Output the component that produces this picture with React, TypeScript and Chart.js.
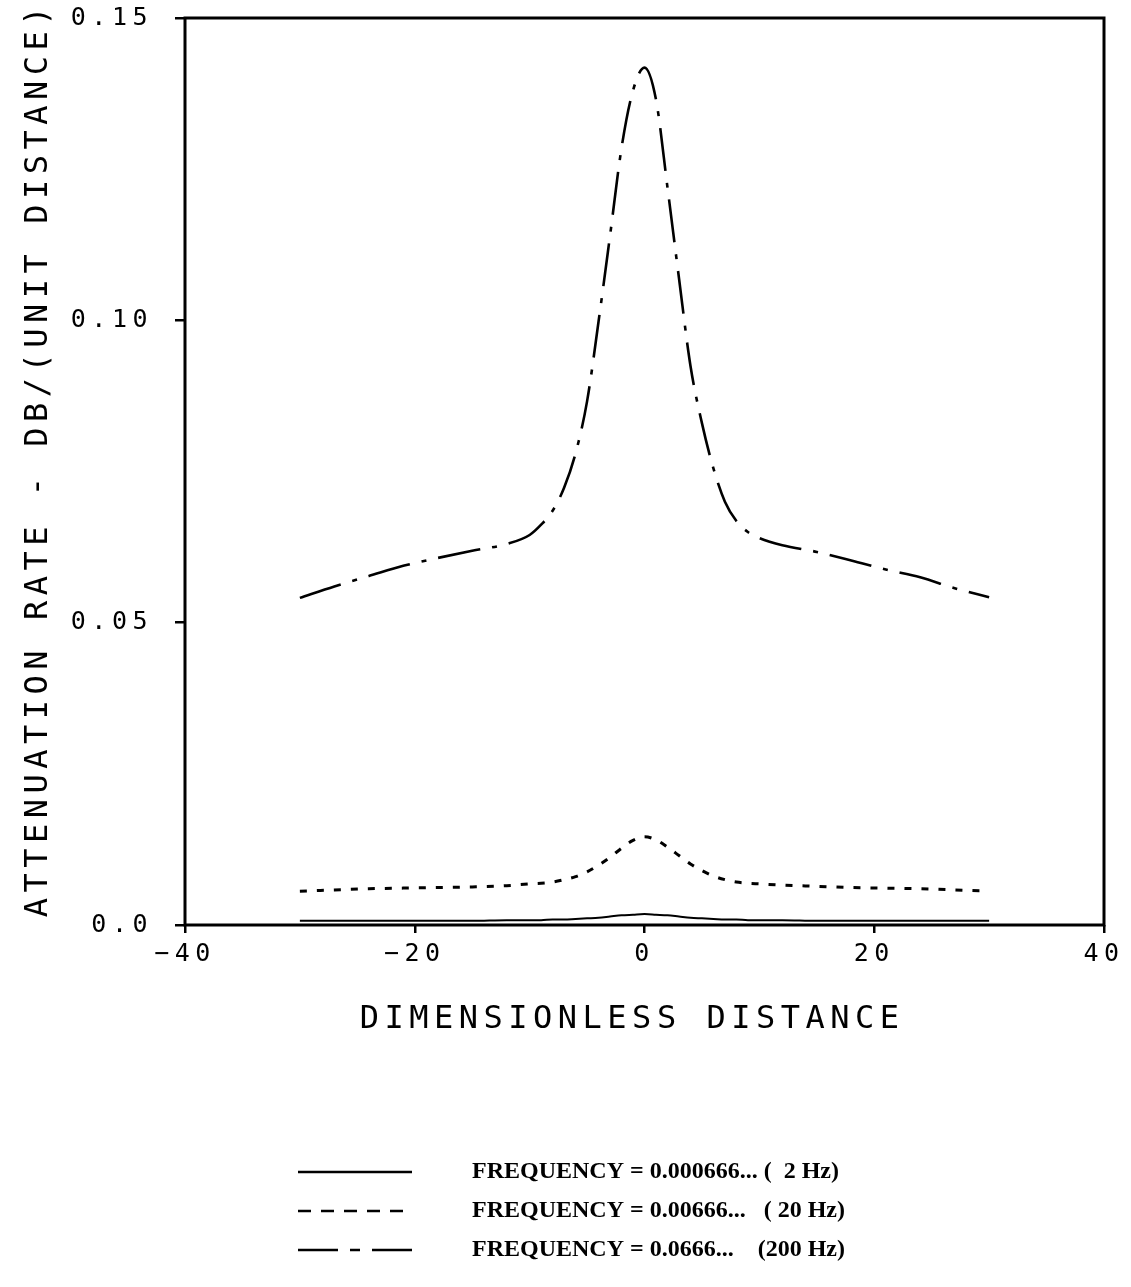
import React, { useEffect, useRef } from 'react';
import { Chart, registerables } from 'chart.js';

Chart.register(...registerables);

// ---- data ----
const distance = [-30, -27, -24, -21, -18, -15, -12, -10, -9, -8, -7, -6, -5, -4, -3, -2, -1, 0, 1, 2, 3, 4, 5, 6, 7, 8, 9, 10, 12, 15, 18, 21, 24, 27, 30];

const rate2Hz = [0.0007, 0.0007, 0.0007, 0.0007, 0.0007, 0.0007, 0.0008, 0.0008, 0.0008, 0.0009, 0.0009, 0.001, 0.0011, 0.0012, 0.0014, 0.0016, 0.0017, 0.0018, 0.0017, 0.0016, 0.0014, 0.0012, 0.0011, 0.001, 0.0009, 0.0009, 0.0008, 0.0008, 0.0008, 0.0007, 0.0007, 0.0007, 0.0007, 0.0007, 0.0007];

const rate20Hz = [0.0056, 0.0058, 0.006, 0.0061, 0.0062, 0.0063, 0.0065, 0.0068, 0.0069, 0.0071, 0.0075, 0.008, 0.0088, 0.0099, 0.0112, 0.0127, 0.014, 0.0146, 0.0141, 0.0129, 0.0115, 0.0101, 0.009, 0.0081, 0.0075, 0.0071, 0.0069, 0.0068, 0.0066, 0.0064, 0.0062, 0.0061, 0.006, 0.0058, 0.0056];

const rate200Hz = [0.0541, 0.056, 0.0577, 0.0594, 0.0607, 0.0619, 0.063, 0.0645, 0.0662, 0.0685, 0.0723, 0.078, 0.0866, 0.0998, 0.114, 0.1285, 0.138, 0.1418, 0.1365, 0.122, 0.107, 0.0925, 0.083, 0.0755, 0.07, 0.0668, 0.065, 0.064, 0.0628, 0.0617, 0.0603, 0.0588, 0.0575, 0.0557, 0.0542];

const seriesLabels = [
  'FREQUENCY = 0.000666... (  2 Hz)',
  'FREQUENCY = 0.00666...   ( 20 Hz)',
  'FREQUENCY = 0.0666...    (200 Hz)',
];

const xTickLabels = ['\u221240', '\u221220', '0', '20', '40'];
const yTickLabels = ['0.0', '0.05', '0.10', '0.15'];

const xTitle = 'DIMENSIONLESS DISTANCE ';
const yTitle = ' ATTENUATION RATE - DB/(UNIT DISTANCE)';

// ---- styles ----
const MONO = '"DejaVu Sans Mono", "Liberation Mono", monospace';
const SPACING = '5.5px';
const legendDashes = [[], [13, 10], [40, 12, 10, 12]];
const legendRowsY = [1172, 1211, 1250];

const toPoints = (ys: number[]) => distance.map((x, i) => ({ x, y: ys[i] }));

const framePlugin = {
  id: 'frameAndLegend',
  beforeLayout(chart: any) {
    chart.ctx.letterSpacing = SPACING;
  },
  beforeDraw(chart: any) {
    chart.ctx.letterSpacing = SPACING;
  },
  afterDatasetsDraw(chart: any) {
    const { ctx, chartArea } = chart;
    ctx.save();
    ctx.strokeStyle = '#000';
    ctx.lineWidth = 3;
    ctx.setLineDash([]);
    ctx.strokeRect(chartArea.left, chartArea.top, chartArea.right - chartArea.left, chartArea.bottom - chartArea.top);
    ctx.restore();
  },
  afterDraw(chart: any) {
    const { ctx } = chart;
    ctx.save();
    ctx.letterSpacing = '0px';
    chart.data.datasets.forEach((ds: any, i: number) => {
      const y = legendRowsY[i];
      ctx.beginPath();
      ctx.strokeStyle = '#000';
      ctx.lineWidth = 2.5;
      ctx.setLineDash(legendDashes[i]);
      ctx.moveTo(298, y);
      ctx.lineTo(412, y);
      ctx.stroke();
      ctx.setLineDash([]);
      ctx.fillStyle = '#000';
      ctx.font = 'bold 24px "Liberation Serif", "Times New Roman", serif';
      ctx.textBaseline = 'middle';
      ctx.textAlign = 'left';
      ctx.fillText(ds.label, 472, y);
    });
    ctx.restore();
  },
};

export default function App() {
  const ref = useRef<HTMLCanvasElement>(null);

  useEffect(() => {
    const canvas = ref.current!;
    const chart = new Chart(canvas, {
      type: 'line',
      data: {
        datasets: [
          {
            label: seriesLabels[0],
            data: toPoints(rate2Hz),
            borderColor: '#000',
            borderWidth: 2,
            pointRadius: 0,
            fill: false,
            cubicInterpolationMode: 'monotone',
          },
          {
            label: seriesLabels[1],
            data: toPoints(rate20Hz),
            borderColor: '#000',
            borderWidth: 3,
            borderDash: [7, 10],
            pointRadius: 0,
            fill: false,
            cubicInterpolationMode: 'monotone',
          },
          {
            label: seriesLabels[2],
            data: toPoints(rate200Hz),
            borderColor: '#000',
            borderWidth: 2.6,
            borderDash: [43, 12, 5, 12],
            pointRadius: 0,
            fill: false,
            cubicInterpolationMode: 'monotone',
          },
        ],
      },
      options: {
        animation: false,
        responsive: false,
        events: [],
        layout: { padding: { left: 0, top: 18, right: 27, bottom: 232 } },
        plugins: {
          legend: { display: false },
          tooltip: { enabled: false },
        },
        scales: {
          x: {
            type: 'linear',
            min: -40,
            max: 40,
            border: { display: false },
            grid: {
              drawOnChartArea: false,
              drawTicks: true,
              tickLength: 8,
              lineWidth: 2.5,
              color: '#000',
            },
            ticks: {
              stepSize: 20,
              color: '#000',
              padding: 6,
              maxRotation: 0,
              font: { family: MONO, size: 25 },
              callback: (_v: any, i: number) => xTickLabels[i],
            },
            title: {
              display: true,
              text: xTitle,
              color: '#000',
              font: { family: MONO, size: 32 },
              padding: { top: 0, bottom: 16 },
            },
            afterFit: (s: any) => {
              s.height = 130;
              s.paddingLeft = 0;
              s.paddingRight = 0;
            },
          },
          y: {
            type: 'linear',
            min: 0,
            max: 0.15,
            border: { display: false },
            grid: {
              drawOnChartArea: false,
              drawTicks: true,
              tickLength: 10,
              lineWidth: 2.5,
              color: '#000',
            },
            ticks: {
              stepSize: 0.05,
              color: '#000',
              padding: 22,
              font: { family: MONO, size: 25 },
              callback: (_v: any, i: number) => yTickLabels[i],
            },
            title: {
              display: true,
              text: yTitle,
              color: '#000',
              font: { family: MONO, size: 32 },
              padding: { top: 19, bottom: 0 },
            },
            afterFit: (s: any) => {
              s.width = 185;
              s.paddingTop = 0;
              s.paddingBottom = 0;
            },
          },
        },
      },
      plugins: [framePlugin],
    } as any);
    return () => chart.destroy();
  }, []);

  return (
    <div style={{ position: 'fixed', left: 0, top: 0, width: 1131, height: 1287, background: '#fff' }}>
      <canvas ref={ref} width={1131} height={1287} style={{ display: 'block' }} />
    </div>
  );
}
